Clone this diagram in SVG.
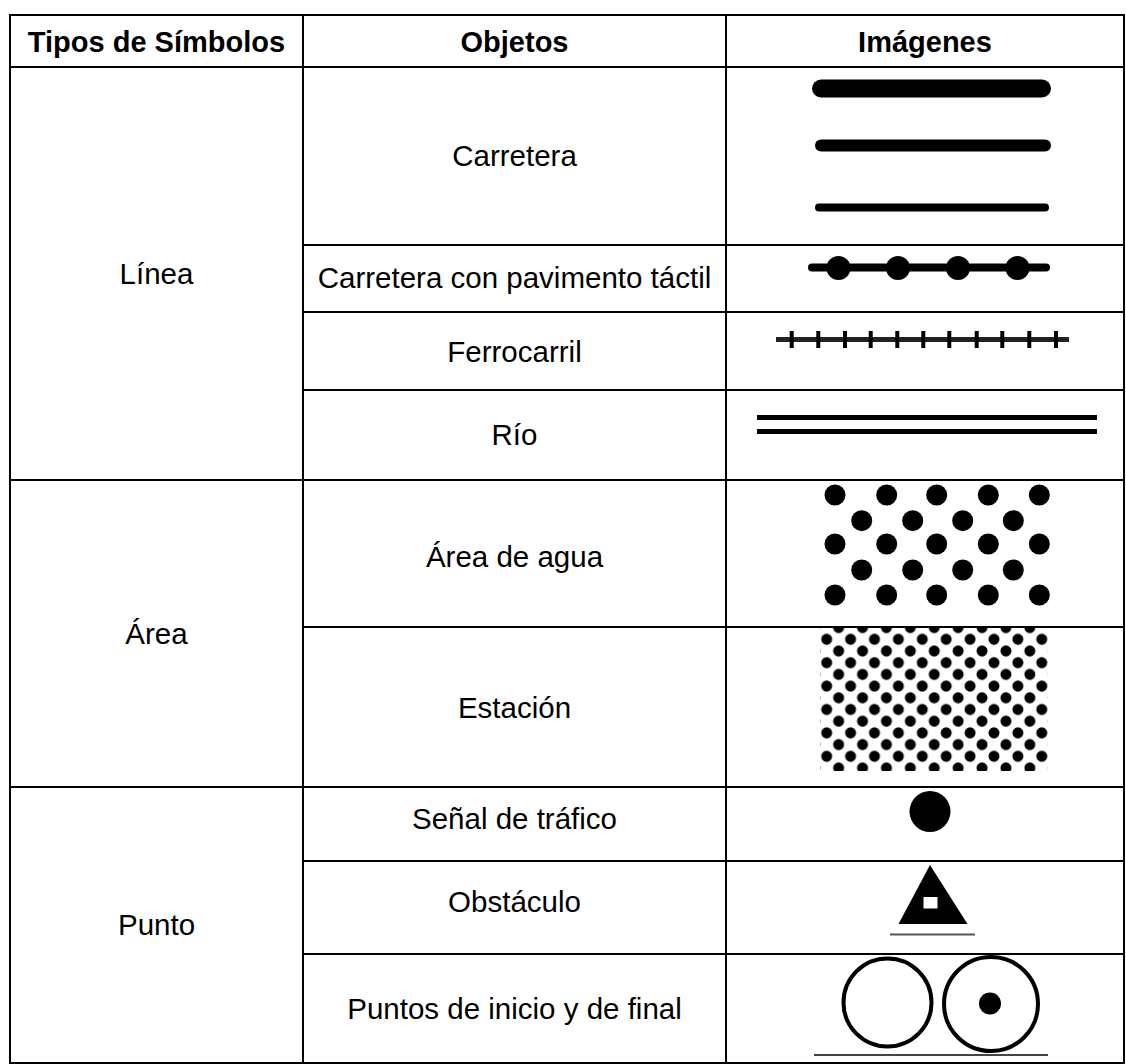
<svg xmlns="http://www.w3.org/2000/svg" width="1126" height="1064" viewBox="0 0 1126 1064">
<style>
.t{font-family:"Liberation Sans",Arial,sans-serif;font-size:29.5px;fill:#000;text-anchor:middle}
.h{font-weight:bold;font-size:29px}
.g{stroke:#000;stroke-width:2;fill:none}
.ink{fill:#000}
</style>
<defs>
<pattern id="est" patternUnits="userSpaceOnUse" x="826.7" y="639.3" width="23.9" height="23.4">
<circle cx="0" cy="0" r="5.5" fill="#000"/>
<circle cx="23.9" cy="0" r="5.5" fill="#000"/>
<circle cx="0" cy="23.4" r="5.5" fill="#000"/>
<circle cx="23.9" cy="23.4" r="5.5" fill="#000"/>
<circle cx="11.95" cy="11.7" r="5.5" fill="#000"/>
</pattern>
</defs>
<rect width="1126" height="1064" fill="#fff"/>
<g id="grid" class="g">
<rect x="10" y="15" width="1114" height="1048"/>
<line x1="303" y1="15" x2="303" y2="1063"/>
<line x1="726" y1="15" x2="726" y2="1063"/>
<line x1="10" y1="67" x2="1124" y2="67"/>
<line x1="303" y1="245" x2="1124" y2="245"/>
<line x1="303" y1="312" x2="1124" y2="312"/>
<line x1="303" y1="390" x2="1124" y2="390"/>
<line x1="10" y1="480" x2="1124" y2="480"/>
<line x1="303" y1="627" x2="1124" y2="627"/>
<line x1="10" y1="787" x2="1124" y2="787"/>
<line x1="303" y1="861" x2="1124" y2="861"/>
<line x1="303" y1="954" x2="1124" y2="954"/>
</g>
<g id="header">
<text class="t h" x="156.5" y="51.5">Tipos de Símbolos</text>
<text class="t h" x="514.5" y="51.5">Objetos</text>
<text class="t h" x="925" y="51.5">Imágenes</text>
</g>
<g id="types">
<text class="t" x="156.5" y="283.5">Línea</text>
<text class="t" x="156.5" y="643.5">Área</text>
<text class="t" x="156.5" y="935">Punto</text>
</g>
<g id="objects">
<text class="t" x="514.5" y="165.5">Carretera</text>
<text class="t" x="514.5" y="287.5">Carretera con pavimento táctil</text>
<text class="t" x="514.5" y="361.5">Ferrocarril</text>
<text class="t" x="514.5" y="444.5">Río</text>
<text class="t" x="514.5" y="566.5">Área de agua</text>
<text class="t" x="514.5" y="717.5">Estación</text>
<text class="t" x="514.5" y="828.5">Señal de tráfico</text>
<text class="t" x="514.5" y="911.5">Obstáculo</text>
<text class="t" x="514.5" y="1018.5">Puntos de inicio y de final</text>
</g>
<g id="img-carretera" stroke="#000" stroke-linecap="round">
<line x1="821" y1="88.5" x2="1042" y2="88.5" stroke-width="18"/>
<line x1="821" y1="145.5" x2="1045" y2="145.5" stroke-width="12"/>
<line x1="819" y1="207.5" x2="1045" y2="207.5" stroke-width="8"/>
</g>
<g id="img-tactil">
<line x1="812" y1="267.5" x2="1046" y2="267.5" stroke="#000" stroke-width="8" stroke-linecap="round"/>
<circle cx="838.5" cy="268" r="12" class="ink"/>
<circle cx="898" cy="268" r="12" class="ink"/>
<circle cx="958" cy="268" r="12" class="ink"/>
<circle cx="1017.5" cy="268" r="12" class="ink"/>
</g>
<g id="img-ferrocarril" stroke="#000">
<line x1="776" y1="339.5" x2="1069" y2="339.5" stroke-width="5" stroke="#222"/>
<path d="M791.7 331v17M818.3 331v17M845 331v17M870.7 331v17M897.3 331v17M923.3 331v17M949.3 331v17M976.7 331v17M1002.3 331v17M1029.3 331v17M1056 331v17" stroke-width="4"/>
</g>
<g id="img-rio" stroke="#000" stroke-width="5">
<line x1="757" y1="417.5" x2="1097" y2="417.5"/>
<line x1="757" y1="431.5" x2="1097" y2="431.5"/>
</g>
<g id="img-agua" class="ink">
<circle cx="835" cy="495" r="10.5"/><circle cx="886.7" cy="495" r="10.5"/><circle cx="936.7" cy="495" r="10.5"/><circle cx="988.3" cy="495" r="10.5"/><circle cx="1039.3" cy="495" r="10.5"/>
<circle cx="861.7" cy="520.7" r="10.5"/><circle cx="912.7" cy="520.7" r="10.5"/><circle cx="962.7" cy="520.7" r="10.5"/><circle cx="1013.3" cy="520.7" r="10.5"/>
<circle cx="835" cy="544" r="10.5"/><circle cx="886.7" cy="544" r="10.5"/><circle cx="936.7" cy="544" r="10.5"/><circle cx="988.3" cy="544" r="10.5"/><circle cx="1039.3" cy="544" r="10.5"/>
<circle cx="861.7" cy="570" r="10.5"/><circle cx="912.7" cy="570" r="10.5"/><circle cx="962.7" cy="570" r="10.5"/><circle cx="1013.3" cy="570" r="10.5"/>
<circle cx="835" cy="595" r="10.5"/><circle cx="886.7" cy="595" r="10.5"/><circle cx="936.7" cy="595" r="10.5"/><circle cx="988.3" cy="595" r="10.5"/><circle cx="1039.3" cy="595" r="10.5"/>
</g>
<g id="img-estacion">
<rect x="820" y="628" width="228" height="143" fill="url(#est)"/>
</g>
<g id="img-senal">
<circle cx="930" cy="811.5" r="20.5" class="ink"/>
</g>
<g id="img-obstaculo">
<path d="M930 865L967.5 924L898.5 924Z M923.5 897L937.5 897L937.5 908.5L923.5 908.5Z" fill="#000" fill-rule="evenodd"/>
<line x1="890" y1="934.5" x2="975" y2="934.5" stroke="#555" stroke-width="2"/>
</g>
<g id="img-puntos" fill="none" stroke="#000" stroke-width="4">
<circle cx="887.5" cy="1002.5" r="44"/>
<circle cx="991" cy="1004" r="47"/>
<circle cx="990" cy="1003.5" r="11" fill="#000" stroke="none"/>
<line x1="814" y1="1055" x2="1048" y2="1055" stroke="#444" stroke-width="2"/>
</g>
</svg>
